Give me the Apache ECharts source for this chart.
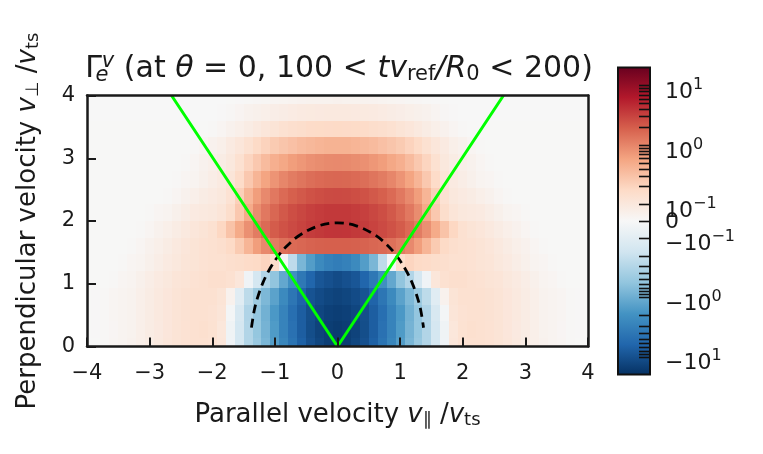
<!DOCTYPE html>
<html>
<head>
<meta charset="utf-8">
<script src="https://cdn.jsdelivr.net/npm/echarts@6/dist/echarts.min.js"></script>
<style>
  html, body { margin: 0; padding: 0; background: #fff; }
  #chart { width: 763px; height: 454px; }
</style>
</head>
<body>
<div id="chart"></div>
<script>
// Bin centres of the velocity-space grid
const vPar = Array.from({ length: 57 }, (_, k) => -4 + k / 7);
const vPerp = Array.from({ length: 16 }, (_, i) => (i * 4) / 15);

// Flux Gamma_e^v per bin, one row per v_perp bin (bottom to top), v_par from -4 to 4
const flux0 = [0.001,0.003,0.009,0.018,0.028,0.037,0.055,0.074,0.092,0.107,0.12,0.128,0.136,0.136,0.128,0.107,-0.037,-0.15,-0.31,-0.5,-0.81,-1.46,-2.65,-4.26,-6.85,-9.8,-12.4,-14.8,-15.7,-14.8,-12.4,-9.8,-6.85,-4.26,-2.65,-1.46,-0.81,-0.5,-0.31,-0.15,-0.037,0.107,0.128,0.136,0.136,0.128,0.12,0.107,0.092,0.074,0.055,0.037,0.028,0.018,0.009,0.003,0.001];
const flux1 = [0.002,0.004,0.009,0.017,0.027,0.036,0.054,0.072,0.09,0.106,0.12,0.128,0.135,0.14,0.13,0.105,-0.04,-0.15,-0.31,-0.53,-0.86,-1.55,-2.8,-4.5,-7.3,-10.4,-13.2,-14.8,-15.7,-14.8,-13.2,-10.4,-7.3,-4.5,-2.8,-1.55,-0.86,-0.53,-0.31,-0.15,-0.04,0.105,0.13,0.14,0.135,0.128,0.12,0.106,0.09,0.072,0.054,0.036,0.027,0.017,0.009,0.004,0.002];
const flux2 = [0.002,0.004,0.009,0.018,0.027,0.036,0.054,0.073,0.091,0.106,0.119,0.127,0.135,0.136,0.128,0.113,-0.02,-0.14,-0.32,-0.54,-0.92,-1.65,-2.8,-4.8,-7.2,-10.2,-12.3,-14,-14.6,-14,-12.3,-10.2,-7.2,-4.8,-2.8,-1.65,-0.92,-0.54,-0.32,-0.14,-0.02,0.113,0.128,0.136,0.135,0.127,0.119,0.106,0.091,0.073,0.054,0.036,0.027,0.018,0.009,0.004,0.002];
const flux3 = [0.002,0.004,0.009,0.018,0.027,0.036,0.054,0.073,0.091,0.106,0.119,0.127,0.135,0.136,0.136,0.12,0.037,-0.107,-0.25,-0.45,-0.77,-1.3,-2.35,-4,-6.4,-9.2,-11,-12.4,-13.2,-12.4,-11,-9.2,-6.4,-4,-2.35,-1.3,-0.77,-0.45,-0.25,-0.107,0.037,0.12,0.136,0.136,0.135,0.127,0.119,0.106,0.091,0.073,0.054,0.036,0.027,0.018,0.009,0.004,0.002];
const flux4 = [0.002,0.003,0.003,0.009,0.018,0.028,0.046,0.064,0.083,0.1,0.113,0.12,0.128,0.136,0.145,0.145,0.136,0.107,-0.037,-0.153,-0.31,-0.565,-1.15,-2.09,-3.78,-6.1,-8.7,-9.8,-11,-9.8,-8.7,-6.1,-3.78,-2.09,-1.15,-0.565,-0.31,-0.153,-0.037,0.107,0.136,0.145,0.145,0.136,0.128,0.12,0.113,0.1,0.083,0.064,0.046,0.028,0.018,0.009,0.003,0.003,0.002];
const flux5 = [0.002,0.002,0.003,0.003,0.009,0.018,0.028,0.046,0.064,0.083,0.1,0.113,0.12,0.128,0.136,0.136,0.145,0.153,0.162,0.172,0.195,0.153,-0.018,-0.246,-0.81,-1.46,-2.35,-2.98,-3.36,-2.98,-2.35,-1.46,-0.81,-0.246,-0.018,0.153,0.195,0.172,0.162,0.153,0.145,0.136,0.136,0.128,0.12,0.113,0.1,0.083,0.064,0.046,0.028,0.018,0.009,0.003,0.003,0.002,0.002];
const flux6 = [0.002,0.002,0.002,0.003,0.003,0.009,0.018,0.037,0.055,0.074,0.092,0.107,0.12,0.128,0.136,0.145,0.172,0.246,0.4,0.64,0.91,1.15,1.38,1.55,1.64,1.75,1.83,1.85,1.85,1.85,1.83,1.75,1.64,1.55,1.38,1.15,0.91,0.64,0.4,0.246,0.172,0.145,0.136,0.128,0.12,0.107,0.092,0.074,0.055,0.037,0.018,0.009,0.003,0.003,0.002,0.002,0.002];
const flux7 = [0.002,0.002,0.002,0.002,0.003,0.003,0.009,0.018,0.037,0.055,0.074,0.092,0.107,0.12,0.136,0.183,0.295,0.5,0.81,1.15,1.55,1.97,2.35,2.65,2.98,3.36,3.56,3.75,3.78,3.75,3.56,3.36,2.98,2.65,2.35,1.97,1.55,1.15,0.81,0.5,0.295,0.183,0.136,0.12,0.107,0.092,0.074,0.055,0.037,0.018,0.009,0.003,0.003,0.002,0.002,0.002,0.002];
const flux8 = [0.002,0.002,0.002,0.002,0.002,0.002,0.002,0.009,0.018,0.028,0.046,0.064,0.083,0.092,0.1,0.113,0.153,0.26,0.5,0.86,1.22,1.64,2.09,2.5,2.82,3.17,3.36,3.55,3.56,3.55,3.36,3.17,2.82,2.5,2.09,1.64,1.22,0.86,0.5,0.26,0.153,0.113,0.1,0.092,0.083,0.064,0.046,0.028,0.018,0.009,0.002,0.002,0.002,0.002,0.002,0.002,0.002];
const flux9 = [0.002,0.002,0.002,0.002,0.002,0.002,0.002,0.002,0.002,0.009,0.018,0.037,0.055,0.074,0.083,0.1,0.128,0.218,0.4,0.64,0.91,1.22,1.55,1.85,2.09,2.35,2.5,2.63,2.65,2.63,2.5,2.35,2.09,1.85,1.55,1.22,0.91,0.64,0.4,0.218,0.128,0.1,0.083,0.074,0.055,0.037,0.018,0.009,0.002,0.002,0.002,0.002,0.002,0.002,0.002,0.002,0.002];
const flux10 = [0.002,0.002,0.002,0.002,0.002,0.002,0.002,0.002,0.002,0.002,0.009,0.018,0.028,0.046,0.064,0.083,0.113,0.162,0.26,0.4,0.565,0.76,0.96,1.15,1.3,1.46,1.55,1.63,1.64,1.63,1.55,1.46,1.3,1.15,0.96,0.76,0.565,0.4,0.26,0.162,0.113,0.083,0.064,0.046,0.028,0.018,0.009,0.002,0.002,0.002,0.002,0.002,0.002,0.002,0.002,0.002,0.002];
const flux11 = [0.002,0.002,0.002,0.002,0.002,0.002,0.002,0.002,0.002,0.002,0.002,0.009,0.018,0.037,0.055,0.074,0.1,0.136,0.195,0.26,0.35,0.45,0.53,0.64,0.72,0.81,0.86,0.9,0.91,0.9,0.86,0.81,0.72,0.64,0.53,0.45,0.35,0.26,0.195,0.136,0.1,0.074,0.055,0.037,0.018,0.009,0.002,0.002,0.002,0.002,0.002,0.002,0.002,0.002,0.002,0.002,0.002];
const flux12 = [0.002,0.002,0.002,0.002,0.002,0.002,0.002,0.002,0.002,0.002,0.002,0.002,0.009,0.018,0.037,0.055,0.083,0.107,0.136,0.172,0.206,0.246,0.277,0.312,0.35,0.375,0.4,0.42,0.42,0.42,0.4,0.375,0.35,0.312,0.277,0.246,0.206,0.172,0.136,0.107,0.083,0.055,0.037,0.018,0.009,0.002,0.002,0.002,0.002,0.002,0.002,0.002,0.002,0.002,0.002,0.002,0.002];
const flux13 = [0.002,0.002,0.002,0.002,0.002,0.002,0.002,0.002,0.002,0.002,0.002,0.002,0.002,0.002,0.009,0.018,0.037,0.055,0.074,0.092,0.107,0.12,0.133,0.145,0.153,0.162,0.168,0.17,0.172,0.17,0.168,0.162,0.153,0.145,0.133,0.12,0.107,0.092,0.074,0.055,0.037,0.018,0.009,0.002,0.002,0.002,0.002,0.002,0.002,0.002,0.002,0.002,0.002,0.002,0.002,0.002,0.002];
const flux14 = [0.001,0.001,0.001,0.001,0.001,0.001,0.001,0.001,0.001,0.001,0.001,0.001,0.001,0.001,0.001,0.005,0.013,0.024,0.037,0.046,0.055,0.063,0.07,0.078,0.083,0.088,0.09,0.092,0.092,0.092,0.09,0.088,0.083,0.078,0.07,0.063,0.055,0.046,0.037,0.024,0.013,0.005,0.001,0.001,0.001,0.001,0.001,0.001,0.001,0.001,0.001,0.001,0.001,0.001,0.001,0.001,0.001];
const flux15 = [0.001,0.001,0.001,0.001,0.001,0.001,0.001,0.001,0.001,0.001,0.001,0.001,0.001,0.001,0.001,0.001,0.002,0.004,0.007,0.011,0.015,0.018,0.022,0.026,0.03,0.033,0.035,0.036,0.037,0.036,0.035,0.033,0.03,0.026,0.022,0.018,0.015,0.011,0.007,0.004,0.002,0.001,0.001,0.001,0.001,0.001,0.001,0.001,0.001,0.001,0.001,0.001,0.001,0.001,0.001,0.001,0.001];
const fluxRows = [flux0, flux1, flux2, flux3, flux4, flux5, flux6, flux7,
                  flux8, flux9, flux10, flux11, flux12, flux13, flux14, flux15];

// Trapped/passing boundary and the dashed separatrix curve
const trappedBoundary = [[-2.65, 4], [0, 0], [2.65, 4]];
const separatrix = [[-1.374, 0.3], [-1.33, 0.573], [-1.28, 0.768], [-1.2, 0.994], [-1.1, 1.204],
  [-0.95, 1.438], [-0.8, 1.611], [-0.6, 1.777], [-0.3, 1.923], [0, 1.97], [0.3, 1.923],
  [0.6, 1.777], [0.8, 1.611], [0.95, 1.438], [1.1, 1.204], [1.2, 0.994], [1.28, 0.768],
  [1.33, 0.573], [1.374, 0.3]];

// Colour-bar range and tick values (symmetric log scale)
const VMIN = -20, VMAX = 20;
const cbarMajor = [10, 1, 0.1, 0, -0.1, -1, -10];
const cbarMinor = [2, 3, 4, 5, 6, 7, 8, 9, 0.2, 0.3, 0.4, 0.5, 0.6, 0.7, 0.8, 0.9,
  -0.2, -0.3, -0.4, -0.5, -0.6, -0.7, -0.8, -0.9, -2, -3, -4, -5, -6, -7, -8, -9];
const cbarLabels = ['{m|10}{sup|1}', '{m|10}{sup|0}', '{m|10}{sup|\u22121}', '{n|0}',
  '{m|\u221210}{sup|\u22121}', '{m|\u221210}{sup|0}', '{m|\u221210}{sup|1}'];

// RdBu reversed
const RdBu_r = ['#053061', '#2166ac', '#4393c3', '#92c5de', '#d1e5f0', '#f7f7f7',
  '#fddbc7', '#f4a582', '#d6604d', '#b2182b', '#67001f'];

fluxRows.forEach((r, i) => { if (r.length !== vPar.length) throw new Error('row ' + i + ' has ' + r.length); });

// symmetric-log transform used by the colour scale
const LINTHRESH = 0.1, LINSPAN = 0.28;
function symlog(v) {
  const a = Math.abs(v);
  const t = a <= LINTHRESH ? LINSPAN * a / LINTHRESH : LINSPAN + Math.log10(a / LINTHRESH);
  return v < 0 ? -t : t;
}
const T_MIN = symlog(VMIN), T_MAX = symlog(VMAX);
const DX = vPar[1] - vPar[0];
const DY = vPerp[1] - vPerp[0];

const cells = [];
fluxRows.forEach((row, i) => row.forEach((v, k) => cells.push([vPar[k], vPerp[i], symlog(v)])));

const FONT = 'DejaVu Sans';
const INK = '#1a1a1a';
const fmtNum = v => (v < 0 ? '\u2212' + (-v) : String(v));

const textRich = (size) => {
  const s = Math.round(size * 0.7);
  const base = { fontFamily: FONT, color: INK, fontWeight: 'normal' };
  return {
    r: Object.assign({ fontSize: size }, base),
    i: Object.assign({ fontSize: size, fontStyle: 'italic' }, base),
    sub: Object.assign({ fontSize: s, padding: [Math.round(size * 0.4), 0, 0, 0] }, base),
    subi: Object.assign({ fontSize: s, fontStyle: 'italic', padding: [Math.round(size * 0.4), 0, 0, 0] }, base),
    subi0: Object.assign({ fontSize: s, fontStyle: 'italic', width: 0, padding: [Math.round(size * 0.45), 0, 0, 0] }, base),
    supi: Object.assign({ fontSize: s, fontStyle: 'italic', padding: [0, 0, Math.round(size * 0.5), 0] }, base)
  };
};

const chart = echarts.init(document.getElementById('chart'), null, { renderer: 'canvas' });

chart.setOption({
  backgroundColor: '#fff',
  animation: false,
  textStyle: { fontFamily: FONT },
  title: {
    left: 334, top: 46, textAlign: 'center',
    text: '{r|\u0393}{subi0|e}{supi|v}{r| (at }{i|\u03b8}{r| = 0, 100 < }{i|tv}{sub|ref}{i|/R}{sub|0}{r| < 200)}',
    textStyle: { fontWeight: 'normal', rich: textRich(30) }
  },
  grid: [
    { left: 87, top: 95.5, width: 501, height: 251 },
    { left: 618, top: 67.5, width: 32, height: 307 }
  ],
  visualMap: {
    type: 'continuous', show: false, seriesIndex: 0, dimension: 2,
    min: T_MIN, max: T_MAX, inRange: { color: RdBu_r }
  },
  xAxis: [
    {
      gridIndex: 0, type: 'value', min: -4, max: 4, interval: 1, z: 10,
      axisLine: { show: true, onZero: false, lineStyle: { color: INK, width: 2.5 } },
      axisTick: { show: true, inside: true, length: 9, lineStyle: { color: INK, width: 2 } },
      axisLabel: { formatter: fmtNum, fontSize: 21, color: INK, margin: 17 },
      splitLine: { show: false },
      name: '{r|Parallel velocity }{i|v}{sub|\u2225}{r| /}{i|v}{sub|ts}',
      nameLocation: 'middle', nameGap: 55,
      nameTextStyle: { rich: textRich(26) }
    },
    {
      gridIndex: 0, type: 'value', min: -4, max: 4, position: 'top', z: 10,
      axisLine: { show: true, onZero: false, lineStyle: { color: INK, width: 2.5 } },
      axisTick: { show: false }, axisLabel: { show: false }, splitLine: { show: false }
    },
    {
      gridIndex: 1, type: 'value', min: 0, max: 1, show: false
    }
  ],
  yAxis: [
    {
      gridIndex: 0, type: 'value', min: 0, max: 4, interval: 1, z: 10,
      axisLine: { show: true, onZero: false, lineStyle: { color: INK, width: 2.5 } },
      axisTick: { show: true, inside: true, length: 9, lineStyle: { color: INK, width: 2 } },
      axisLabel: { formatter: fmtNum, fontSize: 21, color: INK, margin: 12, padding: [5, 0, 0, 0] },
      splitLine: { show: false },
      name: '{r|Perpendicular velocity }{i|v}{sub|\u22a5}{r| /}{i|v}{sub|ts}',
      nameLocation: 'middle', nameGap: 45, nameRotate: 90,
      nameTextStyle: { rich: textRich(26) }
    },
    {
      gridIndex: 0, type: 'value', min: 0, max: 4, position: 'right', z: 10,
      axisLine: { show: true, onZero: false, lineStyle: { color: INK, width: 2.5 } },
      axisTick: { show: false }, axisLabel: { show: false }, splitLine: { show: false }
    },
    {
      gridIndex: 1, type: 'value', min: T_MIN, max: T_MAX, position: 'right', z: 10,
      axisLine: { show: false }, splitLine: { show: false }, axisTick: { show: false },
      axisLabel: {
        show: true, margin: 15,
        customValues: cbarMajor.map(symlog),
        formatter: (t) => {
          const idx = cbarMajor.findIndex(v => Math.abs(symlog(v) - t) < 1e-6);
          return idx >= 0 ? cbarLabels[idx] : '';
        },
        rich: {
          n: { fontSize: 22, fontFamily: FONT, color: INK, padding: [3, 0, 0, 0] },
          m: { fontSize: 22, fontFamily: FONT, color: INK, padding: [14, 0, 0, 0] },
          sup: { fontSize: 16, fontFamily: FONT, color: INK, padding: [0, 0, 1, 0] }
        }
      }
    }
  ],
  series: [
    {
      type: 'custom', xAxisIndex: 0, yAxisIndex: 0, z: 1,
      data: cells,
      encode: { x: 0, y: 1 },
      renderItem(params, api) {
        const x = api.value(0), y = api.value(1);
        const a = api.coord([x - DX / 2, y + DY / 2]);
        const b = api.coord([x + DX / 2, y - DY / 2]);
        const cs = params.coordSys;
        const x0 = Math.round(Math.max(a[0], cs.x));
        const x1 = Math.round(Math.min(b[0], cs.x + cs.width));
        const y0 = Math.round(Math.max(a[1], cs.y));
        const y1 = Math.round(Math.min(b[1], cs.y + cs.height));
        if (x1 <= x0 || y1 <= y0) return null;
        return {
          type: 'rect',
          shape: { x: x0, y: y0, width: x1 - x0, height: y1 - y0 },
          style: { fill: api.visual('color') }
        };
      }
    },
    {
      // colour bar: gradient over the full symlog range, ticks on its right edge
      type: 'custom', xAxisIndex: 2, yAxisIndex: 2, z: 2,
      data: [[0, 0]],
      renderItem(params, api) {
        const cs = params.coordSys;
        const stops = RdBu_r.map((c, i) => ({ offset: i / (RdBu_r.length - 1), color: c }));
        const right = cs.x + cs.width;
        const ticks = cbarMajor.concat(cbarMinor)
          .filter(v => v > VMIN && v < VMAX)
          .map(v => {
            const y = Math.round(api.coord([0, symlog(v)])[1]) + 0.5;
            return {
              type: 'line',
              shape: { x1: right - 11, y1: y, x2: right, y2: y },
              style: { stroke: '#111', lineWidth: 1.6 }
            };
          });
        return {
          type: 'group',
          children: [{
            type: 'rect',
            shape: { x: cs.x, y: cs.y, width: cs.width, height: cs.height },
            style: { fill: new echarts.graphic.LinearGradient(0, 1, 0, 0, stops), stroke: '#111', lineWidth: 2 }
          }].concat(ticks)
        };
      }
    },
    {
      type: 'line', xAxisIndex: 0, yAxisIndex: 0, z: 4,
      data: trappedBoundary, symbol: 'none',
      lineStyle: { color: '#00ff00', width: 3 }
    },
    {
      type: 'line', xAxisIndex: 0, yAxisIndex: 0, z: 3,
      data: separatrix, symbol: 'none', smooth: 0.35,
      lineStyle: { color: '#000', width: 2.8, type: [9, 5.5] }
    }
  ]
});
</script>
</body>
</html>
